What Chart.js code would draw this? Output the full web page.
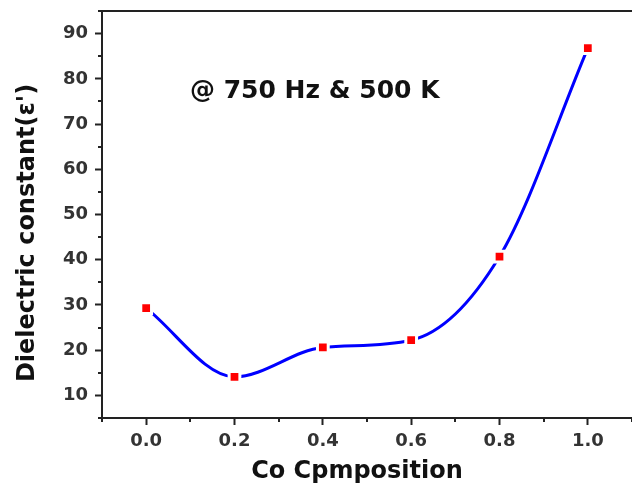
<!DOCTYPE html>
<html>
<head>
<meta charset="utf-8">
<script src="https://cdn.jsdelivr.net/npm/chart.js@4"></script>
<style>
  html, body { margin: 0; padding: 0; background: #fff; }
</style>
</head>
<body>
<canvas id="chart" width="632" height="484"></canvas>
<script>
const composition = [0.0, 0.2, 0.4, 0.6, 0.8, 1.0]
const dielectric = [29.3, 14.1, 20.6, 22.2, 40.7, 86.8]
const xTicks = [0.0, 0.2, 0.4, 0.6, 0.8, 1.0]
const xMinor = [-0.1, 0.1, 0.3, 0.5, 0.7, 0.9, 1.1]
const yTicks = [10, 20, 30, 40, 50, 60, 70, 80, 90]
const yMinor = [5, 15, 25, 35, 45, 55, 65, 75, 85, 95]

const font = "DejaVu Sans"
const axisColor = "#222"

// minor ticks, top frame line and the texts
const decor = {
    id: "decor",
    afterDraw(chart) {
        const ctx = chart.ctx
        const area = chart.chartArea
        const x = chart.scales.x
        const y = chart.scales.y
        ctx.save()
        ctx.strokeStyle = axisColor
        ctx.lineWidth = 2
        ctx.beginPath()
        ctx.moveTo(area.left - 1, area.top)
        ctx.lineTo(area.right, area.top)
        xMinor.forEach(v => {
            const px = Math.round(x.getPixelForValue(v))
            ctx.moveTo(px, area.bottom)
            ctx.lineTo(px, area.bottom + 4)
        })
        yMinor.forEach(v => {
            const py = Math.round(y.getPixelForValue(v))
            ctx.moveTo(area.left, py)
            ctx.lineTo(area.left - 4, py)
        })
        ctx.stroke()

        ctx.fillStyle = "#111"
        ctx.font = `bold 25px "${font}"`
        ctx.textAlign = "left"
        ctx.textBaseline = "alphabetic"
        ctx.fillText("@ 750 Hz & 500 K", 190, 98)

        ctx.font = `bold 24px "${font}"`
        ctx.textAlign = "center"
        ctx.fillText("Co Cpmposition", 357, 478)

        ctx.translate(34, 233)
        ctx.rotate(-Math.PI / 2)
        ctx.fillText("Dielectric constant(ε')", 0, 0)
        ctx.restore()
    }
}

new Chart(document.getElementById("chart"), {
    type: "line",
    data: {
        datasets: [{
            data: composition.map((c, i) => ({ x: c, y: dielectric[i] })),
            borderColor: "#0000ff",
            borderWidth: 3,
            cubicInterpolationMode: "monotone",
            pointStyle: "rect",
            pointRadius: 7.6,
            pointBackgroundColor: "#ff0000",
            pointBorderColor: "#ffffff",
            pointBorderWidth: 3,
            fill: false
        }]
    },
    options: {
        responsive: false,
        animation: false,
        layout: { autoPadding: false, padding: { top: 11, right: 0, left: 0, bottom: 0 } },
        plugins: {
            legend: { display: false },
            tooltip: { enabled: false }
        },
        scales: {
            x: {
                type: "linear",
                min: -0.1,
                max: 1.1,
                afterBuildTicks: axis => { axis.ticks = xTicks.map(v => ({ value: v })) },
                afterFit: axis => {
                    axis.height = 66
                    axis.paddingLeft = 0
                    axis.paddingRight = 0
                },
                ticks: {
                    callback: v => v.toFixed(1),
                    color: "#333",
                    font: { family: font, size: 18, weight: "bold" },
                    padding: 6,
                    maxRotation: 0
                },
                grid: { drawOnChartArea: false, tickLength: 7, tickColor: axisColor, tickWidth: 2 },
                border: { display: true, color: axisColor, width: 2 }
            },
            y: {
                min: 5,
                max: 95,
                afterBuildTicks: axis => { axis.ticks = yTicks.map(v => ({ value: v })) },
                afterFit: axis => {
                    axis.width = 102
                    axis.paddingTop = 0
                    axis.paddingBottom = 0
                },
                ticks: {
                    color: "#333",
                    font: { family: font, size: 18, weight: "bold" },
                    padding: 7
                },
                grid: { drawOnChartArea: false, tickLength: 7, tickColor: axisColor, tickWidth: 2 },
                border: { display: true, color: axisColor, width: 2 }
            }
        }
    },
    plugins: [decor]
})
</script>
</body>
</html>
